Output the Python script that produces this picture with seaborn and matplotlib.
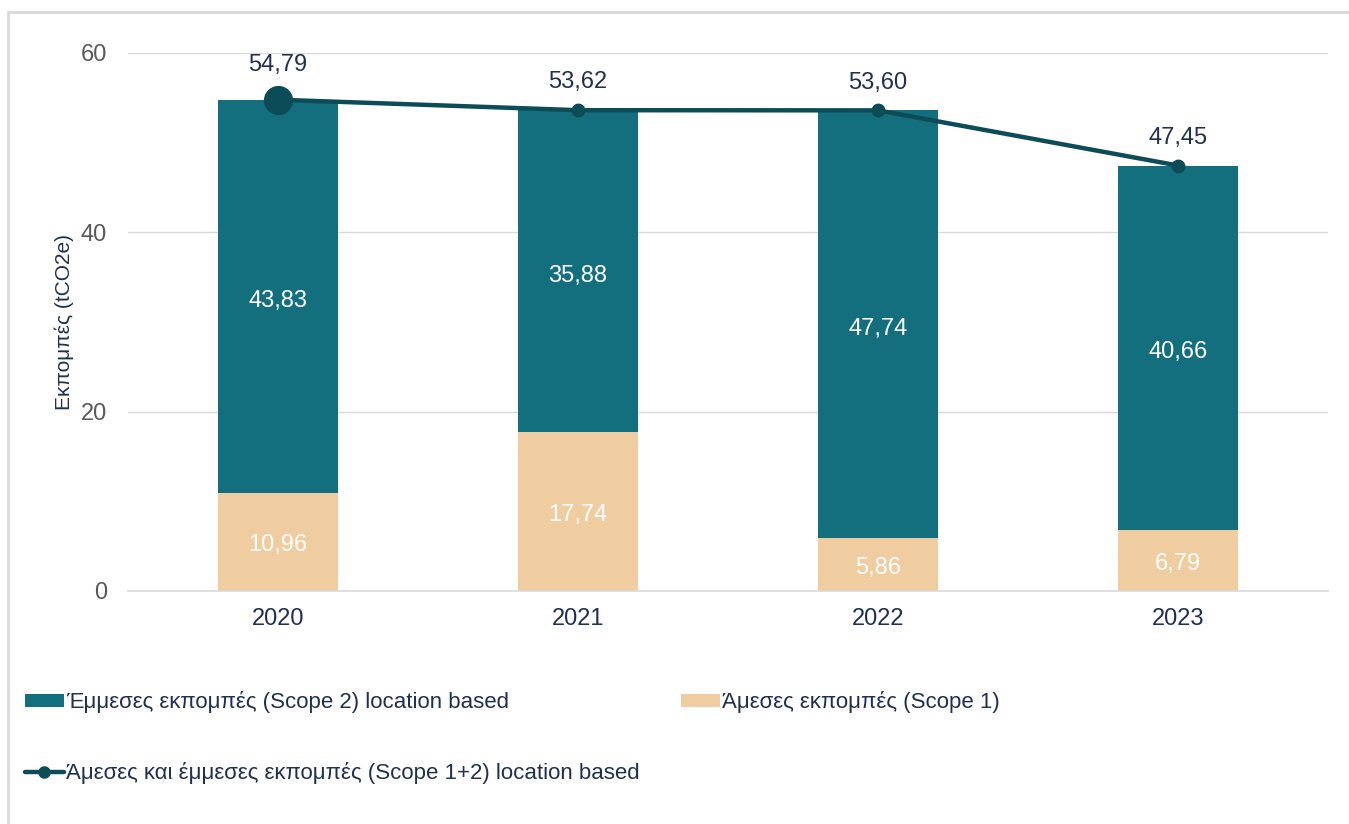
import matplotlib.pyplot as plt
import pandas as pd
import seaborn as sns
from matplotlib.lines import Line2D
from matplotlib.patches import Patch, Rectangle

years = ["2020", "2021", "2022", "2023"]
scope1 = [10.96, 17.74, 5.86, 6.79]
scope2 = [43.83, 35.88, 47.74, 40.66]
totals = [54.79, 53.62, 53.60, 47.45]

label_s2 = "Έμμεσες εκπομπές (Scope 2) location based"
label_s1 = "Άμεσες εκπομπές (Scope 1)"
label_tot = "Άμεσες και έμμεσες εκπομπές (Scope 1+2) location based"

TEAL = "#136F7E"
BEIGE = "#F0CDA0"
DARK = "#0B4C56"
NAVY = "#1F3050"
GREY = "#595959"


def fmt(v: float) -> str:
    return f"{v:.2f}".replace(".", ",")


def main() -> None:
    df = pd.DataFrame({"year": years, "scope1": scope1, "scope2": scope2, "total": totals})

    sns.set_theme(style="white")
    plt.rcParams["font.family"] = ["Liberation Sans", "DejaVu Sans"]

    fig = plt.figure(figsize=(13.49, 8.24), dpi=100)
    ax = fig.add_axes([0.0949, 0.2828, 0.8895, 0.6529])

    # outer frame
    fig.patches.append(Rectangle((8 / 1349, -0.1), 1.2, 1 - 12 / 824 + 0.1,
                                 transform=fig.transFigure, fill=False,
                                 edgecolor="#D9D9D9", linewidth=2))

    # stacked bars: total in teal, scope 1 drawn over the bottom part
    sns.barplot(data=df, x="year", y="total", color=TEAL, width=0.4,
                linewidth=0, saturation=1, ax=ax)
    sns.barplot(data=df, x="year", y="scope1", color=BEIGE, width=0.4,
                linewidth=0, saturation=1, ax=ax)

    xs = list(range(len(years)))
    ax.plot(xs, totals, color=DARK, linewidth=3.2, marker="o", markersize=9,
            zorder=5, clip_on=False)
    ax.plot([xs[0]], [totals[0]], color=DARK, marker="o", markersize=20,
            zorder=6, clip_on=False)

    fs = 17
    for i in xs:
        ax.text(i, scope1[i] / 2 - 0.4, fmt(scope1[i]), ha="center", va="center",
                color="white", fontsize=fs)
        ax.text(i, scope1[i] + scope2[i] / 2 - 0.5, fmt(scope2[i]), ha="center",
                va="center", color="white", fontsize=fs)
        off = 3.9 if i == 0 else 3.1
        ax.text(i, totals[i] + off, fmt(totals[i]), ha="center", va="center",
                color=NAVY, fontsize=fs)

    ax.set_xlim(-0.5, 3.5)
    ax.set_ylim(0, 60)
    ax.set_yticks([0, 20, 40, 60])
    ax.yaxis.grid(True, color="#D9D9D9", linewidth=1)
    ax.set_axisbelow(True)
    for side in ["left", "right", "top"]:
        ax.spines[side].set_visible(False)
    ax.spines["bottom"].set_color("#D9D9D9")
    ax.spines["bottom"].set_linewidth(1.2)
    ax.tick_params(axis="y", labelsize=fs, labelcolor=GREY, length=0, pad=15)
    ax.tick_params(axis="x", labelsize=fs, labelcolor=NAVY, length=0, pad=12)
    ax.set_xlabel("")
    ax.set_ylabel("Εκπομπές (tCO2e)", fontsize=15, color=NAVY)
    ax.yaxis.set_label_coords(-0.045, 0.5)

    handles = [
        Patch(facecolor=TEAL, edgecolor="none"),
        Line2D([0], [0], color=DARK, linewidth=3.2, marker="o", markersize=8),
        Patch(facecolor=BEIGE, edgecolor="none"),
    ]
    fig.legend(handles, [label_s2, label_tot, label_s1], ncol=2,
               loc="upper left", bbox_to_anchor=(25 / 1349, 0.161), frameon=False,
               fontsize=16, labelcolor=NAVY, handlelength=1.75, handleheight=0.55,
               handletextpad=0.1, columnspacing=1.85, labelspacing=2.2,
               borderpad=0, borderaxespad=0)

    fig.savefig("out.png", dpi=100)
    plt.close(fig)


if __name__ == "__main__":
    main()
